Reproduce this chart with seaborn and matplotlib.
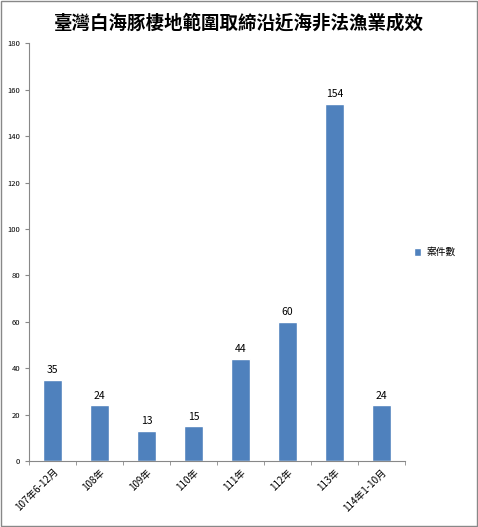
import pandas as pd
import seaborn as sns
import matplotlib.pyplot as plt
from matplotlib.patches import Rectangle

categorias = ["107年6-12月", "108年", "109年", "110年", "111年", "112年", "113年", "114年1-10月"]
casos = [35, 24, 13, 15, 44, 60, 154, 24]

df = pd.DataFrame({"periodo": categorias, "案件數": casos})

sns.set_style("white")
plt.rcParams["font.family"] = ["Noto Sans CJK TC", "DejaVu Sans"]
plt.rcParams["text.color"] = "black"
plt.rcParams["xtick.labelcolor"] = "black"
plt.rcParams["ytick.labelcolor"] = "black"

fig = plt.figure(figsize=(4.78, 5.27), dpi=100)
ax = fig.add_axes([0.061, 0.125, 0.786, 0.793])

sns.barplot(data=df, x="periodo", y="案件數", color="#4F81BD", width=0.4,
            saturation=1, ax=ax, label="案件數")

for i, v in enumerate(casos):
    ax.text(i, v + 2, str(v), ha="center", va="bottom", fontsize=7.5, color="black")

ax.set_ylim(0, 180)
ax.set_yticks(range(0, 181, 20))
ax.set_xlim(-0.5, len(categorias) - 0.5)
ax.set_xlabel("")
ax.set_ylabel("")
ax.tick_params(axis="y", labelsize=5.5, length=3, direction="out", color="#888888", left=True)
ax.tick_params(axis="x", which="major", labelsize=7, length=0, pad=4)
ax.set_xticks([i + 0.5 for i in range(-1, len(categorias))], minor=True)
ax.tick_params(axis="x", which="minor", length=3, color="#888888", bottom=True)
plt.setp(ax.get_xticklabels(), rotation=45, ha="right", rotation_mode="anchor")

for s in ["top", "right"]:
    ax.spines[s].set_visible(False)
for s in ["left", "bottom"]:
    ax.spines[s].set_color("#888888")
    ax.spines[s].set_linewidth(0.8)

leg = ax.legend(loc="center left", bbox_to_anchor=(1.0, 0.5), frameon=False,
                fontsize=7, handlelength=0.8, handleheight=0.8, handletextpad=0.5)

fig.suptitle("臺灣白海豚棲地範圍取締沿近海非法漁業成效", y=0.975, fontsize=13.3,
             fontweight="bold", color="black")

fig.patches.append(Rectangle((0.002, 0.002), 0.996, 0.996, transform=fig.transFigure,
                             fill=False, edgecolor="#888888", linewidth=1))

fig.savefig("out.png", dpi=100)
